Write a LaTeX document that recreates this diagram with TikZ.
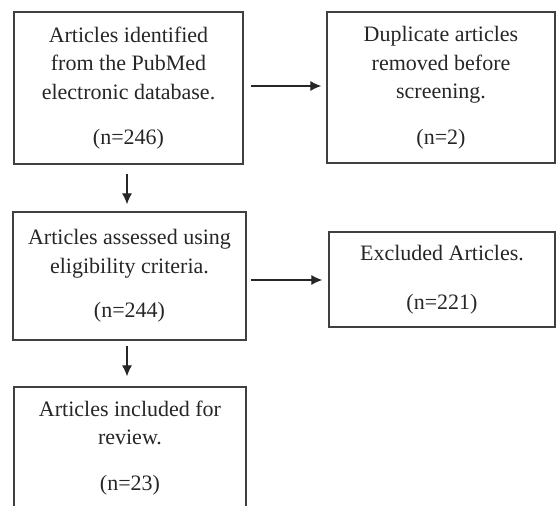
\documentclass[tikz,border=0pt]{standalone}
\usepackage{fontspec}
\setmainfont{Liberation Serif}
\usetikzlibrary{arrows.meta}
\begin{document}
\begin{tikzpicture}[x=1pt,y=-1pt,
  box/.style={draw=black!75, line width=1.3pt, rectangle, inner sep=0pt, align=center,
    text=black!85, font=\fontsize{22}{28.5}\selectfont},
  arr/.style={draw=black!85, line width=1.2pt, -{Latex[length=11pt,width=10pt]}}]
\useasboundingbox (0,0) rectangle (557,506);
\node[box, minimum width=229pt, minimum height=152pt] (a) at (128.5,88)
  {Articles identified\\from the PubMed\\electronic database.\\[17pt](n=246)};
\node[box, minimum width=228pt, minimum height=151pt] (b) at (441,87.5)
  {Duplicate articles\\removed before\\screening.\\[17pt](n=2)};
\node[box, minimum width=233pt, minimum height=128pt] (c) at (129.5,276)
  {Articles assessed using\\eligibility criteria.\\[16pt](n=244)};
\node[box, minimum width=226pt, minimum height=95pt] (d) at (442,279.5)
  {Excluded Articles.\\[21pt](n=221)};
\node[box, minimum width=232pt, minimum height=122pt] (e) at (130,448)
  {Articles included for\\review.\\[17pt](n=23)};
\draw[arr, shorten <=7pt, shorten >=5pt] (a.east |- 0,86) -- (b.west |- 0,86);
\draw[arr, shorten <=9pt, shorten >=7pt] (a.south -| 127,0) -- (c.north -| 127,0);
\draw[arr, shorten <=4pt, shorten >=6pt] (c.east |- 0,280) -- (d.west |- 0,280);
\draw[arr, shorten <=5pt, shorten >=10pt] (c.south -| 127,0) -- (e.north -| 127,0);
\end{tikzpicture}
\end{document}
